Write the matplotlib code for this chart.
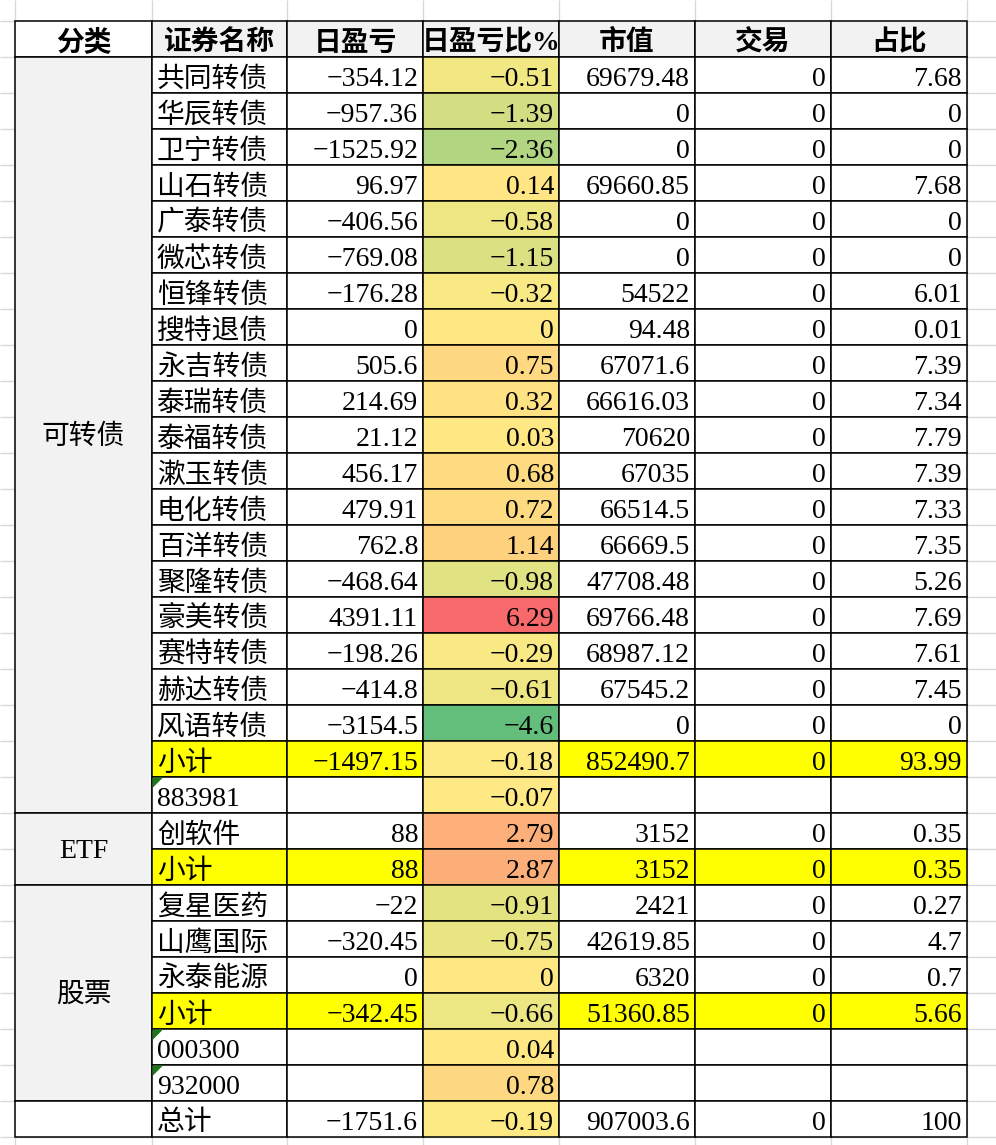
import numpy as np
import matplotlib
matplotlib.use("Agg")
import matplotlib.pyplot as plt
from matplotlib.patches import Rectangle, Polygon
from matplotlib.colors import LinearSegmentedColormap, TwoSlopeNorm

plt.rcParams['font.family'] = ['Liberation Serif', 'Noto Sans CJK SC', 'DejaVu Sans']

# ---------------- data ----------------
headers = ["分类", "证券名称", "日盈亏", "日盈亏比%", "市值", "交易", "占比"]

# (label, first row, last row exclusive)
groups = [("可转债", 0, 21), ("ETF", 21, 23), ("股票", 23, 29), ("", 29, 30)]

names = ["共同转债", "华辰转债", "卫宁转债", "山石转债", "广泰转债", "微芯转债",
         "恒锋转债", "搜特退债", "永吉转债", "泰瑞转债", "泰福转债", "漱玉转债",
         "电化转债", "百洋转债", "聚隆转债", "豪美转债", "赛特转债", "赫达转债",
         "风语转债", "小计", "883981",
         "创软件", "小计",
         "复星医药", "山鹰国际", "永泰能源", "小计", "000300", "932000",
         "总计"]

pnl = [-354.12, -957.36, -1525.92, 96.97, -406.56, -769.08, -176.28, 0, 505.6,
       214.69, 21.12, 456.17, 479.91, 762.8, -468.64, 4391.11, -198.26, -414.8,
       -3154.5, -1497.15, None,
       88, 88,
       -22, -320.45, 0, -342.45, None, None,
       -1751.6]

pct = [-0.51, -1.39, -2.36, 0.14, -0.58, -1.15, -0.32, 0, 0.75, 0.32, 0.03, 0.68,
       0.72, 1.14, -0.98, 6.29, -0.29, -0.61, -4.6, -0.18, -0.07,
       2.79, 2.87,
       -0.91, -0.75, 0, -0.66, 0.04, 0.78,
       -0.19]

mktval = [69679.48, 0, 0, 69660.85, 0, 0, 54522, 94.48, 67071.6, 66616.03, 70620,
          67035, 66514.5, 66669.5, 47708.48, 69766.48, 68987.12, 67545.2, 0,
          852490.7, None,
          3152, 3152,
          2421, 42619.85, 6320, 51360.85, None, None,
          907003.6]

trade = [0] * 20 + [None] + [0, 0] + [0, 0, 0, 0, None, None] + [0]

share = [7.68, 0, 0, 7.68, 0, 0, 6.01, 0.01, 7.39, 7.34, 7.79, 7.39, 7.33, 7.35,
         5.26, 7.69, 7.61, 7.45, 0, 93.99, None,
         0.35, 0.35,
         0.27, 4.7, 0.7, 5.66, None, None,
         100]

# ---------------- layout ----------------
col_edges = [15, 152, 287, 423, 559, 695, 831, 967]
top = 20.5
rh = 36
fs = 20

GRAY = "#F2F2F2"
YELLOW = "#FFFF00"
GRID = "#D9D9D9"

fig = plt.figure(figsize=(9.96, 11.45), dpi=100)
ax = fig.add_axes([0, 0, 1, 1])
ax.set_xlim(0, 996)
ax.set_ylim(1145, 0)
ax.axis("off")

# spreadsheet background grid
ys = top + rh * np.arange(-1, 33)
ax.hlines(ys, 0, 996, color=GRID, lw=1, zorder=0)
ax.vlines(col_edges + [col_edges[-1] + 136], 0, 1145, color=GRID, lw=1, zorder=0)

# excel style 3-colour scale on the pct column
cmap = LinearSegmentedColormap.from_list("rg", ["#63BE7B", "#FFEB84", "#F8696B"])
norm = TwoSlopeNorm(vcenter=np.percentile(pct, 50), vmin=min(pct), vmax=max(pct))


def fmt(v):
    if v is None:
        return ""
    return f"{v:.10g}".replace("-", "\u2212")


def cell(c, r0, r1, color):
    x0, x1 = col_edges[c], col_edges[c + 1]
    y0, y1 = top + rh * r0, top + rh * r1
    ax.add_patch(Rectangle((x0, y0), x1 - x0, y1 - y0, facecolor=color,
                           edgecolor="black", lw=1.1, zorder=2))
    return x0, x1, y1


# header
for c, h in enumerate(headers):
    x0, x1, y1 = cell(c, 0, 1, "white" if c == 0 else GRAY)
    ax.text((x0 + x1) / 2, y1 - 6, h, ha="center", va="baseline",
            fontsize=fs, fontweight="bold", zorder=3)

# category column (merged cells)
for label, a, b in groups:
    x0, x1, y1 = cell(0, a + 1, b + 1, GRAY if label else "white")
    yc = top + rh * ((a + b) / 2 + 1) + 3
    ax.text((x0 + x1) / 2, yc, label, ha="center", va="center", fontsize=fs, zorder=3)

# body
cols = [pnl, pct, mktval, trade, share]
for i, name in enumerate(names):
    r = i + 1
    sub = name == "小计"
    x0, x1, y1 = cell(1, r, r + 1, YELLOW if sub else "white")
    ax.text(x0 + 5, y1 - 6, name, ha="left", va="baseline", fontsize=fs, zorder=3)
    if name.isdigit():
        # "number stored as text" marker
        ax.add_patch(Polygon([(x0 + 1, top + rh * r + 1), (x0 + 11, top + rh * r + 1),
                              (x0 + 1, top + rh * r + 11)], closed=True,
                             facecolor="#1A7A1A", edgecolor="none", zorder=4))
    for k, vals in enumerate(cols):
        c = k + 2
        if c == 3:
            fc = cmap(norm(vals[i]))
        else:
            fc = YELLOW if sub else "white"
        x0, x1, y1 = cell(c, r, r + 1, fc)
        ax.text(x1 - 5, y1 - 6, fmt(vals[i]), ha="right", va="baseline",
                fontsize=fs, zorder=3)

fig.savefig("out.png", dpi=100)
